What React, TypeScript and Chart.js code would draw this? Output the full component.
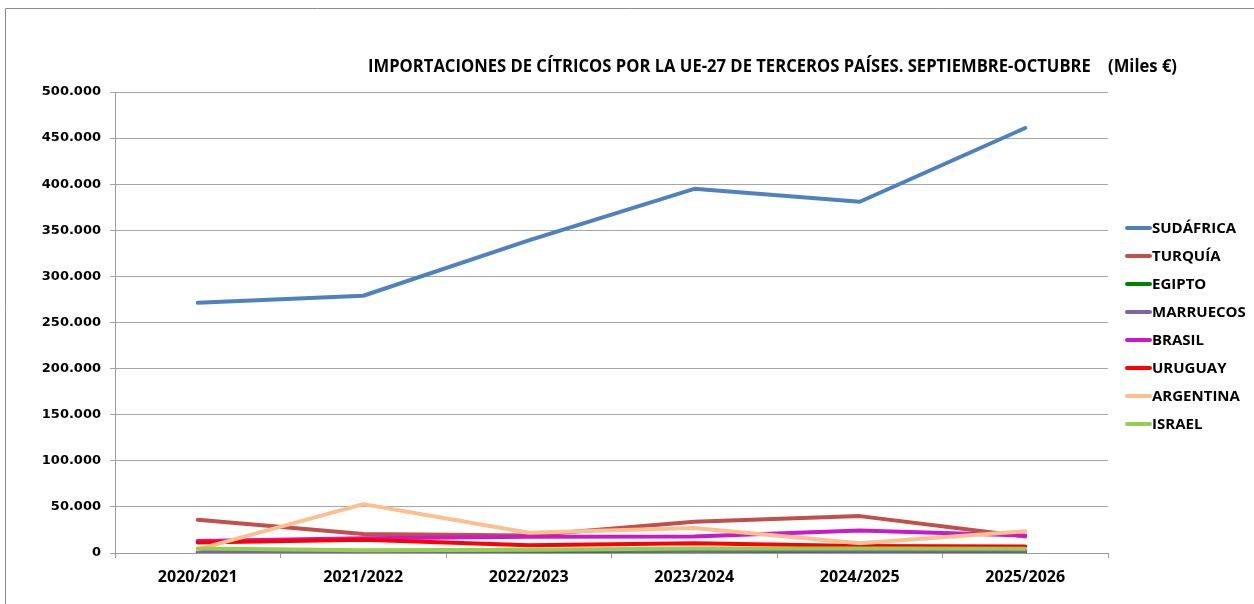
import React, { useEffect, useRef } from "react";
import { Chart, registerables } from "chart.js";

Chart.register(...registerables);

const CATEGORIES = ["2020/2021", "2021/2022", "2022/2023", "2023/2024", "2024/2025", "2025/2026"];
const SUDAFRICA = [271500, 279000, 339000, 395000, 381000, 461000];
const TURQUIA = [36000, 20500, 19000, 34000, 40000, 18000];
const EGIPTO = [1000, 1000, 2000, 2500, 2000, 1500];
const MARRUECOS = [2000, 2000, 2500, 3000, 2500, 2500];
const BRASIL = [13000, 16000, 17500, 18000, 24500, 19000];
const URUGUAY = [11500, 14500, 8500, 10500, 7500, 7000];
const ARGENTINA = [4000, 53000, 22000, 27000, 10500, 23500];
const ISRAEL = [5000, 3000, 3500, 5000, 5000, 4500];

const SERIES_NAMES = ["SUDÁFRICA", "TURQUÍA", "EGIPTO", "MARRUECOS", "BRASIL", "URUGUAY", "ARGENTINA", "ISRAEL"];
const SERIES_VALUES = [SUDAFRICA, TURQUIA, EGIPTO, MARRUECOS, BRASIL, URUGUAY, ARGENTINA, ISRAEL];
const SERIES_COLORS = ["#4F81BD", "#C0504D", "#008000", "#8064A2", "#CC19C8", "#FF0000", "#FAC090", "#92D050"];

const TITLE = "IMPORTACIONES DE CÍTRICOS POR LA UE-27 DE TERCEROS PAÍSES. SEPTIEMBRE-OCTUBRE    (Miles €)";
const Y_MIN = 0;
const Y_MAX = 500000;
const Y_STEP = 50000;

function fmt(v: number): string {
  const s = Math.round(v).toString();
  return s.replace(/\B(?=(\d{3})+(?!\d))/g, ".");
}

const decorPlugin = {
  id: "decor",
  afterDraw(chart: any) {
    const ctx = chart.ctx;
    ctx.save();
    // frame
    ctx.strokeStyle = "#8c8c8c";
    ctx.lineWidth = 1;
    ctx.beginPath();
    ctx.moveTo(5.5, 604);
    ctx.lineTo(5.5, 8.5);
    ctx.lineTo(1254, 8.5);
    ctx.stroke();
    // title
    ctx.fillStyle = "#000";
    ctx.font = "bold 17px 'Open Sans'";
    ctx.textAlign = "left";
    ctx.textBaseline = "middle";
    ctx.fillText(TITLE, 368, 67, 809);
    // legend
    const ds = chart.data.datasets;
    ctx.font = "bold 15px 'Open Sans'";
    ctx.lineCap = "round";
    for (let i = 0; i < ds.length; i++) {
      const y = 228 + i * 28;
      ctx.strokeStyle = ds[i].borderColor;
      ctx.lineWidth = 4;
      ctx.beginPath();
      ctx.moveTo(1127, y);
      ctx.lineTo(1150, y);
      ctx.stroke();
      ctx.fillStyle = "#000";
      ctx.fillText(ds[i].label, 1152, y + 1);
    }
    ctx.restore();
  },
};

export default function App() {
  const ref = useRef<HTMLCanvasElement>(null);
  useEffect(() => {
    if (!ref.current) return;
    const n = SERIES_NAMES.length;
    const chart = new Chart(ref.current, {
      type: "line",
      data: {
        labels: CATEGORIES,
        datasets: SERIES_NAMES.map((name, i) => ({
          label: name,
          data: SERIES_VALUES[i],
          borderColor: SERIES_COLORS[i],
          backgroundColor: SERIES_COLORS[i],
          borderWidth: 4,
          pointRadius: 0,
          tension: 0,
          borderCapStyle: "round",
          borderJoinStyle: "round",
          order: n - i,
        })),
      },
      options: {
        responsive: false,
        animation: false,
        layout: { padding: { top: 92, right: 146, bottom: 0, left: 0 } },
        plugins: {
          legend: { display: false },
          title: { display: false },
          tooltip: { enabled: false },
        },
        scales: {
          x: {
            type: "category",
            offset: true,
            afterFit: (scale: any) => {
              scale.height = 51;
            },
            grid: {
              display: true,
              offset: true,
              drawOnChartArea: false,
              drawTicks: true,
              tickLength: 5,
              color: "#9a9a9a",
            },
            border: { display: true, color: "#9a9a9a" },
            ticks: {
              color: "#000",
              padding: 10,
              font: { family: "'Open Sans'", size: 16, weight: "bold" },
              maxRotation: 0,
            },
          },
          y: {
            min: Y_MIN,
            max: Y_MAX,
            afterFit: (scale: any) => {
              scale.width = 115;
            },
            grid: {
              color: "#a6a6a6",
              tickLength: 5,
              drawTicks: true,
            },
            border: { display: true, color: "#9a9a9a" },
            ticks: {
              stepSize: Y_STEP,
              color: "#000",
              padding: 9,
              font: { family: "'DejaVu Sans'", size: 13, weight: "bold" },
              callback: (v: any) => fmt(Number(v)),
            },
          },
        },
      },
      plugins: [decorPlugin],
    } as any);
    return () => chart.destroy();
  }, []);
  return (
    <div style={{ position: "fixed", left: 0, top: 0, width: 1254, height: 604, background: "#fff" }}>
      <canvas ref={ref} width={1254} height={604} style={{ display: "block", width: 1254, height: 604 }} />
    </div>
  );
}
